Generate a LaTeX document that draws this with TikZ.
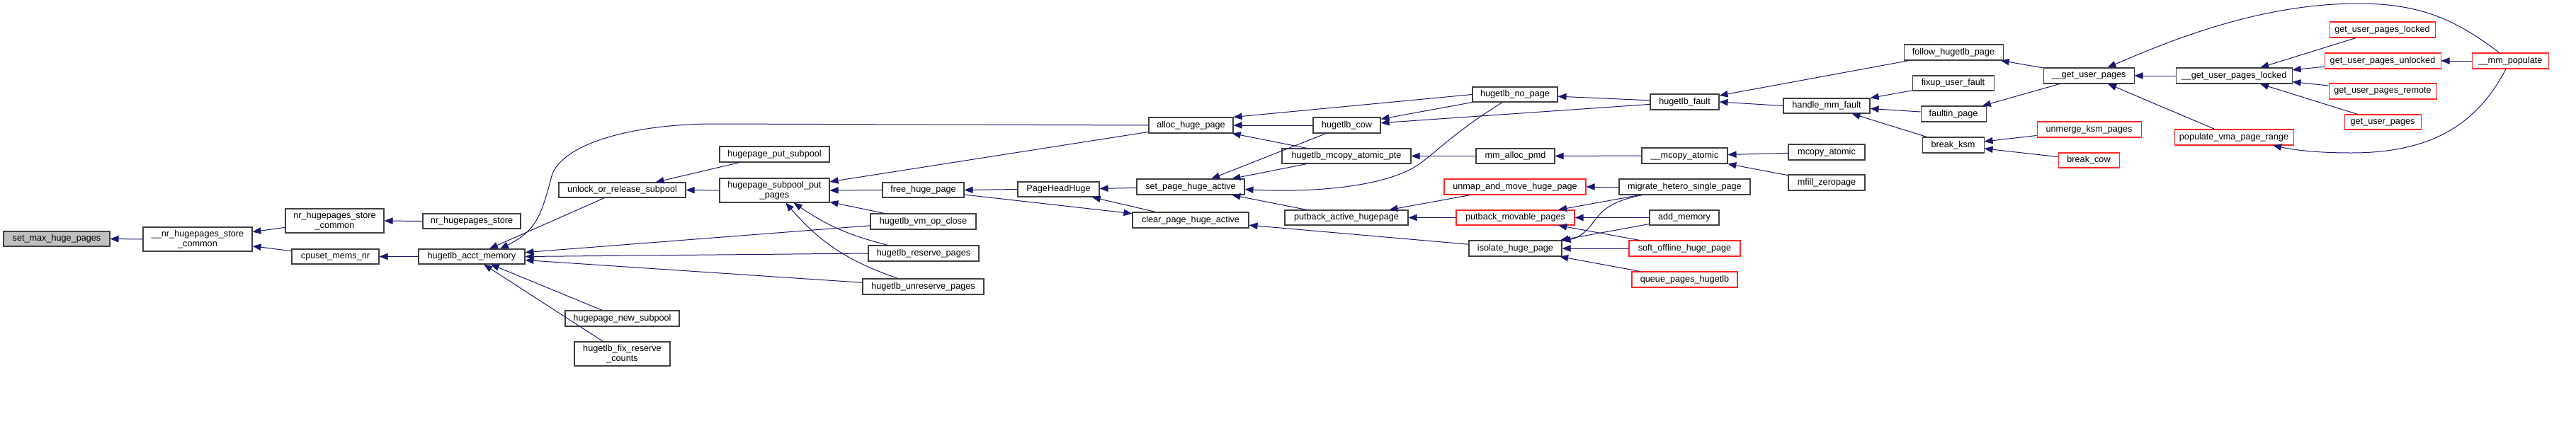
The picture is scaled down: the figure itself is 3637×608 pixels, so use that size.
\documentclass[tikz,border=0pt]{standalone}
\usepackage{fontspec}
\setmainfont{Liberation Sans}
\usepackage{tikz}
\usetikzlibrary{arrows.meta}
\definecolor{edgeblue}{HTML}{191970}
\definecolor{rootgray}{HTML}{BFBFBF}
\tikzset{fn/.style={draw=black!75,line width=0.8pt,fill=white,align=center,inner xsep=2pt,inner ysep=1pt,font=\fontsize{9.5}{10.5}\selectfont},
fnred/.style={fn,draw=red!85!white},
fnroot/.style={fn,fill=rootgray},
call/.style={draw=edgeblue,line width=0.75pt,-{Triangle[length=9pt,width=7pt]}}}
\begin{document}
\begin{tikzpicture}[x=0.75pt,y=-0.75pt]
\path[use as bounding box] (0,0) rectangle (3637,608);
% functions (black frame)
\foreach \nm/\xx/\yy/\w/\h/\txt in {
nhsc/279/338/154/34/{\_\_nr\_hugepages\_store\\\_common},
nhscm/472.5/312/139/34/{nr\_hugepages\_store\\\_common},
cmn/473.5/362.5/123/21/{cpuset\_mems\_nr},
nhs/666/312.5/138/21/{nr\_hugepages\_store},
ham/666/362.5/150/21/{hugetlb\_acct\_memory},
uors/878.5/268.5/179/21/{unlock\_or\_release\_subpool},
hns/878.5/450/161/22/{hugepage\_new\_subpool},
hfrc/878.5/500/135/34/{hugetlb\_fix\_reserve\\\_counts},
hpsp/1093.5/218/155/22/{hugepage\_put\_subpool},
hspp/1093.5/269/155/34/{hugepage\_subpool\_put\\\_pages},
fhp/1303.5/268.5/115/21/{free\_huge\_page},
hvoc/1303.5/313/149/22/{hugetlb\_vm\_op\_close},
hrp/1304/358/156/22/{hugetlb\_reserve\_pages},
hup/1303.5/405/171/22/{hugetlb\_unreserve\_pages},
ahp/1681.5/177/119/22/{alloc\_huge\_page},
phh/1494.5/267.5/115/21/{PageHeadHuge},
spha/1681/264/152/22/{set\_page\_huge\_active},
cpha/1681/311/164/22/{clear\_page\_huge\_active},
hnp/2139/133.5/120/21/{hugetlb\_no\_page},
hcow/1901.5/177/95/22/{hugetlb\_cow},
hmap/1901/220.5/182/21/{hugetlb\_mcopy\_atomic\_pte},
map/2139.5/220.5/111/21/{mm\_alloc\_pmd},
pah/1901/307.5/174/21/{putback\_active\_hugepage},
ihp/2139.5/351/131/22/{isolate\_huge\_page},
hf/2378.5/144/97/22/{hugetlb\_fault},
hmf/2579/149.5/122/21/{handle\_mm\_fault},
mca/2378.5/220/121/22/{\_\_mcopy\_atomic},
mcopy/2579/215/108/22/{mcopy\_atomic},
mzp/2579/258/108/22/{mfill\_zeropage},
mhsp/2378.5/264/185/22/{migrate\_hetero\_single\_page},
am/2378/307.5/98/21/{add\_memory},
fhpg/2758/74/140/22/{follow\_hugetlb\_page},
fuf/2757.5/117.5/115/21/{fixup\_user\_fault},
fp/2758/161/92/22/{faultin\_page},
bk/2757.5/205/87/22/{break\_ksm},
gup/2949/107/128/22/{\_\_get\_user\_pages},
gupl/3154/107/164/22/{\_\_get\_user\_pages\_locked}}{
\node[fn,minimum width=\w*0.75pt,minimum height=\h*0.75pt] (\nm) at (\xx,\yy) {\txt};
}
% functions (red frame)
\foreach \nm/\xx/\yy/\w/\h/\txt in {
umhp/2139/264/200/22/{unmap\_and\_move\_huge\_page},
pmp/2139.5/307.5/167/21/{putback\_movable\_pages},
sohp/2378.5/351/157/22/{soft\_offline\_huge\_page},
qph/2378.5/395/149/22/{queue\_pages\_hugetlb},
ukp/2949.5/183/147/22/{unmerge\_ksm\_pages},
bc/2949/226.5/86/21/{break\_cow},
pvpr/3154/194/168/22/{populate\_vma\_page\_range},
gupld/3363.5/42/149/22/{get\_user\_pages\_locked},
gupu/3364/86/164/22/{get\_user\_pages\_unlocked},
gupr/3364/129/152/22/{get\_user\_pages\_remote},
gupg/3364/172.5/108/21/{get\_user\_pages},
mmp/3544/86/108/22/{\_\_mm\_populate}}{
\node[fnred,minimum width=\w*0.75pt,minimum height=\h*0.75pt] (\nm) at (\xx,\yy) {\txt};
}
\node[fnroot,minimum width=150*0.75pt,minimum height=21*0.75pt] (smhp) at (80,337.5) {set\_max\_huge\_pages};
% calls: caller -> callee
\foreach \a/\b in {nhsc.west/smhp.east,nhscm/nhsc,cmn/nhsc,nhs.west/nhscm.east,ham.west/cmn.east,
uors/ham,hvoc/ham,hrp.west/ham.east,hup/ham,hns/ham,hfrc/ham,
hpsp/uors,hspp.west/uors.east,ahp/hspp,fhp.west/hspp.east,hvoc/hspp,
phh.west/fhp.east,fhp/cpha,spha/phh,cpha/phh,
hnp.west/ahp.north east,hcow.west/ahp.east,hmap/ahp,
hcow/spha,hmap/spha,pah/spha,ihp/cpha,
hnp/hcow,hf/hcow,hf/hnp,map.west/hmap.east,mca.west/map.east,mcopy/mca,mzp/mca,
umhp/pah,pmp.west/pah.east,mhsp.west/umhp.east,mhsp/pmp,am.west/pmp.east,sohp/pmp,
am/ihp,sohp.west/ihp.east,qph/ihp,
fhpg/hf,hmf.west/hf.east,fuf/hmf,fp/hmf,bk/hmf,
gup/fhpg,gup/fp,ukp/bk,bc/bk,gupl.west/gup.east,pvpr/gup,
gupld/gupl,gupu/gupl,gupr/gupl,gupg/gupl,mmp.west/gupu.east}{
\draw[call] (\a) -- (\b);
}
\draw[call] (hrp) to[bend left=10] (hspp);
\draw[call] (hup) to[bend left=15] (hspp);
\draw[call] (ahp.west) -- (1010,175) .. controls (900,175) and (800,200) .. (780,245) .. controls (765,300) and (760,325) .. ([xshift=30pt]ham.north);
\draw[call] (hnp) .. controls (2040,195) and (2020,225) .. (1990,240) .. controls (1940,265) and (1850,272) .. (spha);
\draw[call] (mhsp) .. controls (2270,285) and (2260,300) .. (2248,316) .. controls (2236,332) and (2225,337) .. (ihp);
\draw[call] (mmp) .. controls (3470,30) and (3420,5) .. (3330,5) .. controls (3200,5) and (3080,50) .. (gup);
\draw[call] (mmp) .. controls (3500,170) and (3440,216) .. (3320,216) .. controls (3270,216) and (3240,212) .. (pvpr);
\end{tikzpicture}
\end{document}
